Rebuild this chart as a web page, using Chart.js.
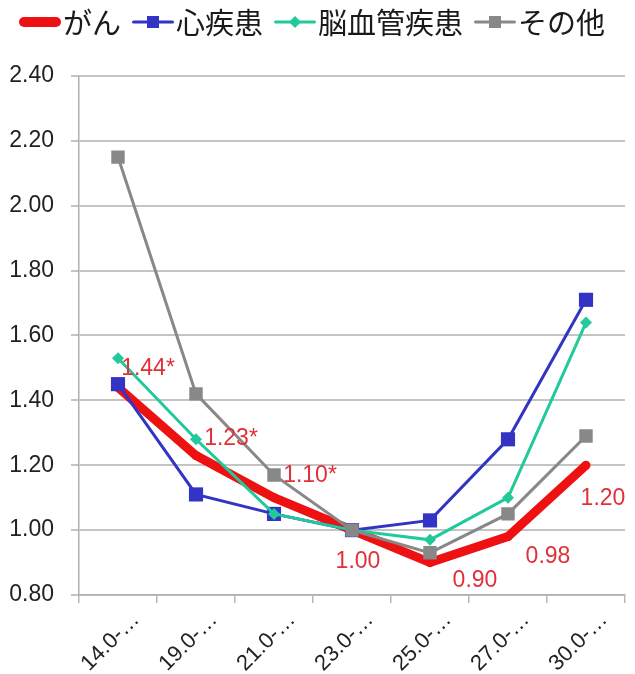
<!DOCTYPE html>
<html>
<head>
<meta charset="utf-8">
<script src="https://cdn.jsdelivr.net/npm/chart.js@4.4.0/dist/chart.umd.min.js"></script>
<style>
  html, body { margin: 0; padding: 0; background: #ffffff; }
  #wrap { width: 635px; height: 674px; position: relative; }
  canvas { display: block; }
</style>
</head>
<body>
<div id="wrap"><canvas id="chart" width="635" height="674"></canvas></div>
<script>
// BMI class (lower bound) on the x axis
const categories = ['14.0-…', '19.0-…', '21.0-…', '23.0-…', '25.0-…', '27.0-…', '30.0-…'];
const seriesNames = ['がん', '心疾患', '脳血管疾患', 'その他'];

// Hazard ratios per cause of death (23.0- is the reference class)
const cancer = [1.44, 1.23, 1.10, 1.00, 0.90, 0.98, 1.20];
const heartDisease = [1.45, 1.11, 1.05, 1.00, 1.03, 1.28, 1.71];
const strokeDisease = [1.53, 1.28, 1.05, 1.00, 0.97, 1.10, 1.64];
const otherCauses = [2.15, 1.42, 1.17, 1.00, 0.93, 1.05, 1.29];

// statistically significant cancer ratios are marked with "*"
const cancerSignificant = [true, true, true, false, false, false, false];

// y axis ticks
const yTicks = [0.80, 1.00, 1.20, 1.40, 1.60, 1.80, 2.00, 2.20, 2.40];

const FONT = "'Liberation Sans', Arial, sans-serif";
const JP_FONT = "'Noto Sans CJK JP', 'Liberation Sans', sans-serif";

const styles = [
  { color: '#ee1111', width: 9, point: 'circle', radius: 4.5, order: 4 },
  { color: '#3333c4', width: 3, point: 'rect', radius: 10, order: 3 },
  { color: '#22c99a', width: 3, point: 'rectRot', radius: 6, order: 2 },
  { color: '#888888', width: 3, point: 'rect', radius: 9.5, order: 1 }
];
const seriesValues = [cancer, heartDisease, strokeDisease, otherCauses];

const datasets = seriesValues.map((vals, i) => ({
  label: seriesNames[i],
  data: vals,
  borderColor: styles[i].color,
  backgroundColor: styles[i].color,
  borderWidth: styles[i].width,
  pointStyle: styles[i].point,
  pointRadius: styles[i].radius,
  pointHoverRadius: styles[i].radius,
  pointBorderWidth: 0,
  tension: 0,
  order: styles[i].order
}));

// value labels for the cancer series (offset from each point, in px)
const labelOffsets = [[30, -19], [35, -17], [36, -22], [6, 32], [45, 18], [40, 20], [17, 33]];
const valueLabels = {
  id: 'valueLabels',
  afterDatasetsDraw(chart) {
    const meta = chart.getDatasetMeta(0);
    const ctx = chart.ctx;
    ctx.save();
    ctx.font = '23px ' + FONT;
    ctx.fillStyle = '#e0303a';
    ctx.textAlign = 'center';
    ctx.textBaseline = 'middle';
    meta.data.forEach((pt, i) => {
      const text = cancer[i].toFixed(2) + (cancerSignificant[i] ? '*' : '');
      ctx.fillText(text, pt.x + labelOffsets[i][0], pt.y + labelOffsets[i][1]);
    });
    ctx.restore();
  }
};

// legend: line segment with marker, then the series name
const lineLegend = {
  id: 'lineLegend',
  afterDraw(chart) {
    const ctx = chart.ctx;
    ctx.save();
    ctx.font = '29px ' + JP_FONT;
    const lineLen = 42, gapAfterLine = 2, gapBetween = 11;
    const widths = seriesNames.map(n => ctx.measureText(n).width);
    let total = 0;
    widths.forEach((w, i) => { total += lineLen + gapAfterLine + w + (i ? gapBetween : 0); });
    let x = 312 - total / 2;
    const y = 22;
    seriesNames.forEach((name, i) => {
      const s = styles[i];
      const lw = i === 0 ? 10 : s.width;
      ctx.strokeStyle = s.color;
      ctx.fillStyle = s.color;
      ctx.lineWidth = lw;
      ctx.lineCap = 'round';
      ctx.beginPath();
      ctx.moveTo(x + lw / 2, y);
      ctx.lineTo(x + lineLen - lw / 2, y);
      ctx.stroke();
      const r = s.point === 'rect' ? 8.5 : s.radius;
      Chart.helpers.drawPoint(ctx, { pointStyle: s.point, radius: r, borderWidth: 0 }, x + lineLen / 2, y);
      ctx.fillStyle = '#1a1a1a';
      ctx.textAlign = 'left';
      ctx.textBaseline = 'middle';
      ctx.fillText(name, x + lineLen + gapAfterLine, y + 1);
      x += lineLen + gapAfterLine + widths[i] + gapBetween;
    });
    ctx.restore();
  }
};

new Chart(document.getElementById('chart'), {
  type: 'line',
  data: { labels: categories, datasets },
  plugins: [valueLabels, lineLegend],
  options: {
    responsive: false,
    animation: false,
    devicePixelRatio: 1,
    layout: { padding: { top: 76, right: 5, left: 0, bottom: 0 } },
    plugins: { legend: { display: false }, tooltip: { enabled: false } },
    scales: {
      x: {
        offset: true,
        grid: { display: true, drawOnChartArea: false, offset: true, tickLength: 8, color: '#b8b8b8', lineWidth: 1.5 },
        border: { display: true, color: '#b0b0b0', width: 1.5 },
        ticks: {
          font: { family: FONT, size: 22 },
          color: '#222222',
          minRotation: 45,
          maxRotation: 45,
          autoSkip: false,
          padding: 4,
          labelOffset: 18
        },
        afterFit(scale) { scale.height = 79; }
      },
      y: {
        min: 0.8,
        max: 2.4,
        afterBuildTicks(scale) { scale.ticks = yTicks.map(v => ({ value: v })); },
        grid: { color: '#c4c4c4', lineWidth: 2, tickLength: 8 },
        border: { display: true, color: '#b0b0b0', width: 1.5 },
        ticks: {
          font: { family: FONT, size: 23 },
          color: '#222222',
          padding: 17,
          callback: v => Number(v).toFixed(2)
        },
        afterFit(scale) { scale.width = 79; }
      }
    }
  }
});
</script>
</body>
</html>
